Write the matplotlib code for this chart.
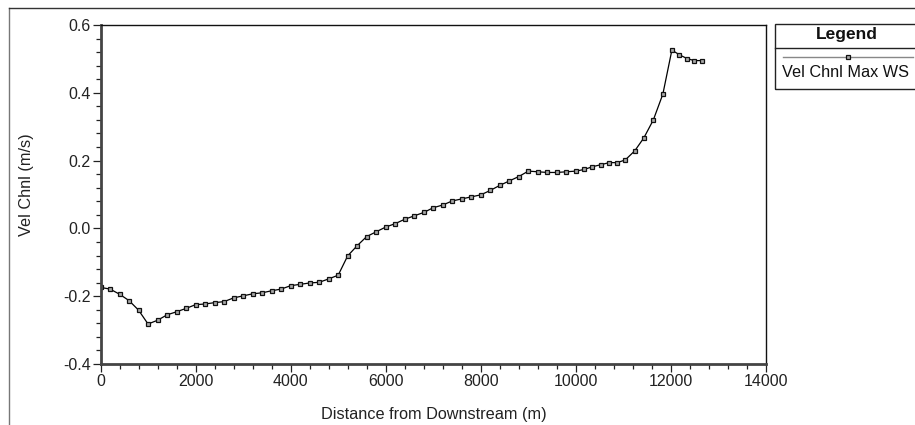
import matplotlib
matplotlib.use("Agg")
import matplotlib.pyplot as plt
from matplotlib.patches import Rectangle
from matplotlib.lines import Line2D
from matplotlib.ticker import MultipleLocator, FormatStrFormatter

plt.rcParams['font.family'] = ['Liberation Sans', 'DejaVu Sans']

distance = [0, 200, 400, 600, 800, 1000, 1200, 1400, 1600, 1800, 2000, 2200,
            2400, 2600, 2800, 3000, 3200, 3400, 3600, 3800, 4000, 4200, 4400,
            4600, 4800, 5000, 5200, 5400, 5600, 5800, 6000, 6200, 6400, 6600,
            6800, 7000, 7200, 7400, 7600, 7800, 8000, 8200, 8400, 8600, 8800,
            9000, 9200, 9400, 9600, 9800, 10000, 10180, 10350, 10530, 10700,
            10870, 11040, 11240, 11430, 11630, 11830, 12020, 12180, 12340,
            12490, 12660]
vel_chnl = [-0.174, -0.179, -0.194, -0.213, -0.241, -0.282, -0.271, -0.255,
            -0.246, -0.236, -0.225, -0.223, -0.219, -0.216, -0.205, -0.199,
            -0.193, -0.190, -0.184, -0.179, -0.169, -0.165, -0.161, -0.159,
            -0.149, -0.138, -0.081, -0.051, -0.024, -0.010, 0.004, 0.014,
            0.027, 0.037, 0.047, 0.061, 0.069, 0.081, 0.087, 0.093, 0.099,
            0.112, 0.127, 0.140, 0.153, 0.169, 0.167, 0.165, 0.165, 0.167,
            0.169, 0.174, 0.182, 0.188, 0.194, 0.194, 0.202, 0.229, 0.267,
            0.320, 0.396, 0.526, 0.512, 0.501, 0.495, 0.495]
series_name = "Vel Chnl Max WS"
x_label = "Distance from Downstream (m)"
y_label = "Vel Chnl (m/s)"

W, H = 915, 425
fig = plt.figure(figsize=(W / 100, H / 100), dpi=100)
fig.patch.set_facecolor('white')

def fx(px):
    return px / W

def fy(py):
    return 1 - py / H

ax_l, ax_r, ax_t, ax_b = 100.5, 766, 25, 364
ax = fig.add_axes([fx(ax_l), fy(ax_b), fx(ax_r - ax_l), (ax_b - ax_t) / H])

ax.plot(distance, vel_chnl, color='black', lw=0.9, marker='s', markersize=3.3,
        markerfacecolor='#aaaaaa', markeredgecolor='#111111', markeredgewidth=0.9)

ax.set_xlim(0, 14000)
ax.set_ylim(-0.4, 0.6)
ax.xaxis.set_major_locator(MultipleLocator(2000))
ax.xaxis.set_minor_locator(MultipleLocator(400))
ax.yaxis.set_major_locator(MultipleLocator(0.2))
ax.yaxis.set_minor_locator(MultipleLocator(0.04))
ax.yaxis.set_major_formatter(FormatStrFormatter('%.1f'))

ax.tick_params(which='major', direction='out', length=6, width=0.9,
               labelsize=11.5, colors='#222222', pad=1.0)
ax.tick_params(which='minor', direction='out', length=3.5, width=0.9,
               colors='#222222')

for s in ['top', 'right']:
    ax.spines[s].set_linewidth(1.0)
    ax.spines[s].set_color('#111111')
for s in ['left', 'bottom']:
    ax.spines[s].set_linewidth(2.0)
    ax.spines[s].set_color('#444444')

ax.set_xlabel(x_label, fontsize=11.7, color='#222222')
ax.set_ylabel(y_label, fontsize=11.7, color='#222222')
ax.xaxis.set_label_coords((433.5 - ax_l) / (ax_r - ax_l), -(414.5 - ax_b) / (ax_b - ax_t))
ax.xaxis.label.set_va('center')
ax.yaxis.set_label_coords(-(ax_l - 27) / (ax_r - ax_l), (ax_b - 185) / (ax_b - ax_t))
ax.yaxis.label.set_va('center')

# outer frame
fig.add_artist(Line2D([fx(9), fx(9)], [fy(8), fy(H + 5)], color='#777777', lw=1.0,
                      transform=fig.transFigure))
fig.add_artist(Line2D([fx(9), fx(W + 5)], [fy(8), fy(8)], color='#333333', lw=1.0,
                      transform=fig.transFigure))

# legend box
lx0, lx1, ly0, ly1, ldiv = 774.5, 920, 24, 89, 48
fig.add_artist(Rectangle((fx(lx0), fy(ly1)), fx(lx1 - lx0), (ly1 - ly0) / H,
                         fill=False, edgecolor='#222222', lw=1.0,
                         transform=fig.transFigure))
fig.add_artist(Line2D([fx(lx0), fx(lx1)], [fy(ldiv), fy(ldiv)], color='#222222',
                      lw=1.0, transform=fig.transFigure))
fig.text(fx(847), fy(34.5), "Legend", fontsize=12.5, fontweight='bold',
         ha='center', va='center', color='#111111')
fig.add_artist(Line2D([fx(783), fx(913)], [fy(57), fy(57)], color='#888888',
                      lw=1.0, transform=fig.transFigure))
fig.add_artist(Line2D([fx(847.5)], [fy(57)], marker='s', markersize=3.3,
                      markerfacecolor='#aaaaaa', markeredgecolor='#111111',
                      markeredgewidth=0.9, transform=fig.transFigure))
fig.text(fx(846), fy(72.5), series_name, fontsize=11.7, ha='center',
         va='center', color='#111111')

fig.savefig("out.png", dpi=100)
